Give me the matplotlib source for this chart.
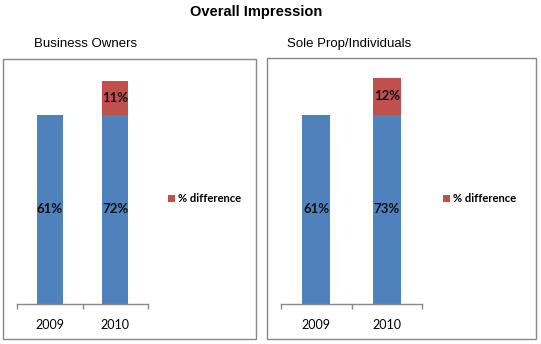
import matplotlib
matplotlib.use("Agg")
import matplotlib.pyplot as plt
from matplotlib.patches import Rectangle

# ---- data ----
years = ["2009", "2010"]
panel_titles = ["Business Owners", "Sole Prop/Individuals"]
business_owners = [61, 72]
sole_prop = [61, 73]
legend_label = "% difference"
title = "Overall Impression"

BLUE = "#4F81BD"
RED = "#C0504D"
GRAY = "#898989"

W, H = 541, 344
fig = plt.figure(figsize=(W / 100, H / 100), dpi=100)
fig.patch.set_facecolor("white")

def fx(px):
    return px / W

def fy(py):
    return 1 - py / H

fig.text(fx(256), fy(12), title, ha="center", va="center",
         fontsize=10.5, fontweight="bold", family="Liberation Sans")

panels = [
    dict(data=business_owners, name=panel_titles[0], box=(3, 59, 256, 339),
         axis=(17, 148), legend=(168, 199), title_x=86),
    dict(data=sole_prop, name=panel_titles[1], box=(267, 58, 536, 339),
         axis=(281, 422), legend=(443, 199), title_x=349),
]

ymax = 75
px_per_unit = 3.1
axis_y = 304

for p in panels:
    x0, y0, x1, y1 = p["box"]
    fig.patches.append(Rectangle((fx(x0), fy(y1)), fx(x1 - x0), (y1 - y0) / H,
                                 transform=fig.transFigure, fill=False,
                                 edgecolor=GRAY, linewidth=1.0))
    fig.text(fx(p["title_x"]), fy(44), p["name"], ha="center", va="center",
             fontsize=9.5, family="Liberation Sans")

    ax_l, ax_r = p["axis"]
    height_px = ymax * px_per_unit
    ax = fig.add_axes([fx(ax_l), fy(axis_y), fx(ax_r - ax_l), height_px / H])
    vals = p["data"]
    base = [vals[0]] * len(vals)
    diff = [v - vals[0] for v in vals]
    xs = list(range(len(years)))
    b1 = ax.bar(xs, base, width=0.4, color=BLUE, edgecolor="none")
    b2 = ax.bar(xs, diff, width=0.4, bottom=base, color=RED, edgecolor="none",
                label=legend_label)
    ax.bar_label(b1, labels=[f"{v}%" for v in vals], label_type="center",
                 fontsize=9.5, fontweight="bold", family="Lato", color="#111111")
    ax.bar_label(b2, labels=["" if d == 0 else f"{d}%" for d in diff],
                 label_type="center", fontsize=9.5, fontweight="bold",
                 family="Lato", color="#111111")
    ax.set_xlim(-0.5, len(years) - 0.5)
    ax.set_ylim(0, ymax)
    ax.set_yticks([])
    for s in ["top", "right", "left"]:
        ax.spines[s].set_visible(False)
    ax.spines["bottom"].set_color(GRAY)
    ax.spines["bottom"].set_linewidth(1.0)
    ax.set_xticks(xs)
    ax.set_xticklabels(years, fontsize=9, family="Lato")
    ax.tick_params(axis="x", which="major", length=0, pad=11)
    ax.set_xticks([x - 0.5 for x in range(len(years) + 1)], minor=True)
    ax.tick_params(axis="x", which="minor", length=3.5, color=GRAY, width=1.0)
    ax.patch.set_alpha(0)

    lx, ly = p["legend"]
    fig.legend(handles=[b2], labels=[legend_label], loc="center left",
               bbox_to_anchor=(fx(lx), fy(ly)), frameon=False,
               handlelength=0.6, handleheight=0.6, handletextpad=0.25,
               borderpad=0, borderaxespad=0,
               prop=dict(family="Lato", weight="bold", size=8.1))

fig.savefig("out.png", dpi=100)
